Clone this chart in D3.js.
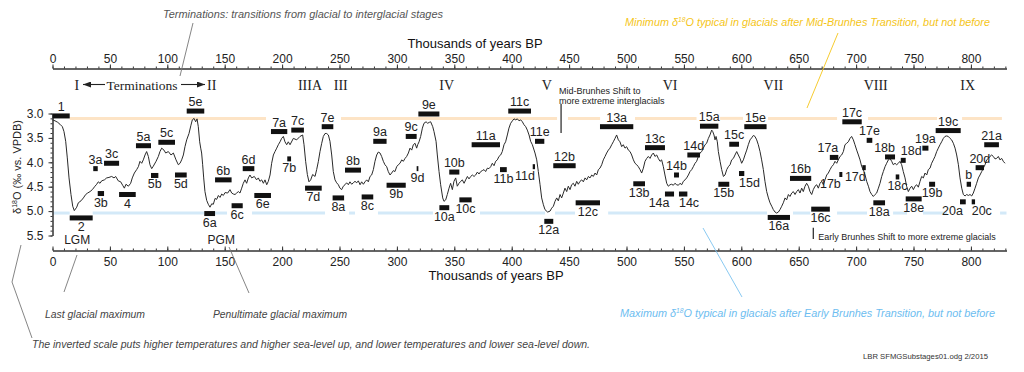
<!DOCTYPE html>
<html>
<head>
<meta charset="utf-8">
<script src="https://cdnjs.cloudflare.com/ajax/libs/d3/7.8.5/d3.min.js"></script>
<style>
  body { margin: 0; background: #fff; }
  svg { display: block; font-family: "Liberation Sans", Arial, Helvetica, sans-serif; }
  .axis text { font-size: 12px; fill: #222; }
  .axis path, .axis line { stroke: #333; }
  .note { font-style: italic; font-size: 10.5px; }
</style>
</head>
<body>
<svg id="chart"></svg>
<script>
// ---- Data ----
// x ticks (thousands of years BP) and y ticks (d18O permil)
const ageTicks = [0, 50, 100, 150, 200, 250, 300, 350, 400, 450, 500, 550, 600, 650, 700, 750, 800];
const ageMinorTicks = d3.range(0, 831, 10);
const d18OTicks = [3.0, 3.5, 4.0, 4.5, 5.0, 5.5];
const d18OMinorTicks = d3.range(30, 56, 1).map(v => v / 10);

// benthic stack trace [age kyr, d18O]
const d18OSeries = [
  [0,3.13],[2.2,3.15],[4.5,3.18],[6.5,3.22],[8.6,3.27],[10,3.37],[11.5,3.57],[12.9,3.91],[14.4,4.32],[16.1,4.66],
  [17.6,4.9],[19,4.99],[21.1,4.92],[22.5,4.83],[24.8,4.79],[26.9,4.73],[28.9,4.66],[30.6,4.63],[32.7,4.6],[34.7,4.56],
  [37,4.49],[38.5,4.45],[39.9,4.4],[41.4,4.43],[42.8,4.38],[45.2,4.36],[47.2,4.32],[49.2,4.31],[51.5,4.29],[53.6,4.32],
  [55,4.29],[57.3,4.38],[59.4,4.4],[61.1,4.47],[62.6,4.53],[64,4.45],[66.1,4.49],[68.1,4.43],[69.5,4.32],[71.3,4.22],
  [73.3,4.15],[74.8,4.09],[76.2,3.98],[77.7,4.02],[79.1,3.95],[80.6,3.85],[82,3.78],[83.5,3.88],[84.9,4.05],[86.4,4.13],
  [87.8,4.08],[90.2,3.98],[92.2,3.88],[93.6,3.78],[95.1,3.71],[97.1,3.75],[98.6,3.81],[100.9,3.78],[103.2,3.85],[105.3,3.81],
  [107.6,3.95],[109.6,4.05],[111.1,4.02],[112.5,3.95],[114,3.85],[115.4,3.68],[116.9,3.54],[118.9,3.41],[120.6,3.24],[121.8,3.13],
  [123.3,3.1],[124.7,3.17],[125.9,3.11],[127,3.27],[128.2,3.58],[129.1,3.71],[129.9,3.81],[130.8,4.05],[131.7,4.32],[132.8,4.6],
  [134.3,4.78],[135.7,4.86],[137.2,4.92],[138.7,4.85],[140.1,4.86],[141.6,4.74],[143,4.76],[144.5,4.68],[145.9,4.72],[147.4,4.65],
  [148.8,4.68],[150.3,4.62],[152.6,4.63],[154.6,4.56],[156.1,4.63],[157.5,4.65],[159,4.66],[160.4,4.63],[161.9,4.6],[163.3,4.63],
  [164.8,4.53],[166.2,4.43],[167.7,4.36],[169.1,4.43],[170.6,4.32],[172,4.26],[173.5,4.32],[175.8,4.29],[177.8,4.36],[179.3,4.32],
  [180.7,4.39],[182.2,4.36],[183.7,4.43],[185.1,4.36],[186.6,4.46],[188,4.39],[189.5,4.26],[190.9,4.02],[192.4,3.85],[193.8,3.78],
  [195.3,3.71],[196.7,3.64],[198.2,3.58],[199.6,3.51],[201.1,3.47],[202.5,3.58],[204,3.64],[205.4,3.58],
  [206.9,3.64],[209.8,3.51],[212.7,3.54],[215.6,3.47],[217.9,3.44],[219.1,3.64],[220.5,3.98],[222,4.25],[223.4,4.4],[224.9,4.36],
  [226.6,4.25],[228.7,4.29],[230.1,4.15],[231.6,3.98],[233,3.78],[234.5,3.61],[235.9,3.47],[237.4,3.41],[238.8,3.41],[240.3,3.44],
  [241.7,3.57],[243.2,3.85],[244.6,4.19],[246.1,4.36],[247.5,4.42],[249,4.46],[250.4,4.53],[251.9,4.56],[253.3,4.49],[254.8,4.46],
  [256.2,4.42],[257.7,4.46],[259.1,4.4],[260.6,4.45],[262,4.42],[263.5,4.39],[265,4.42],[266.4,4.38],[267.9,4.46],[269.3,4.4],
  [270.8,4.45],[272.2,4.4],[273.7,4.36],[275.1,4.4],[276.6,4.29],[278,4.26],[279.5,4.15],[280.9,3.98],[282.4,3.85],[283.8,3.79],
  [285.3,3.81],[286.7,3.88],[288.2,3.98],[289.6,4.05],[291.1,4.09],[292.5,4.19],[294,4.26],[295.4,4.22],[296.9,4.17],[298.3,4.19],
  [299.8,4.09],[301.2,4.05],[302.7,4.02],[304.2,3.95],[305.6,3.98],[307.1,3.92],[308.5,3.88],[310,3.81],[311.4,3.71],[312.9,3.75],
  [314.3,3.64],[315.8,3.61],[317.2,3.71],[318.1,3.64],[319.3,3.58],[320.7,3.47],[322.2,3.3],[323.6,3.2],[325.4,3.17],[326.8,3.2],
  [328.3,3.18],[329.4,3.17],[331.2,3.27],[332.3,3.37],[334.1,3.57],[335.2,3.85],[336.7,4.19],[338.1,4.46],[339.9,4.73],[341,4.8],
  [342.5,4.77],[343.9,4.66],[345.4,4.53],[346.8,4.43],[348.3,4.56],[349.7,4.39],[351.2,4.32],[352.6,4.49],[354.1,4.43],[355.6,4.39],
  [357,4.36],[358.5,4.43],[359.9,4.36],[361.4,4.29],[362.8,4.34],[364.3,4.29],[365.7,4.26],[367.2,4.29],[368.6,4.26],[370.1,4.2],
  [371.5,4.24],[373,4.19],[374.4,4.17],[375.9,4.15],[377.3,4.19],[378.8,4.12],[380.2,4.13],[381.7,4.09],[383.1,4.02],[384.6,4.07],
  [386,3.98],[387.5,3.95],[388.9,3.88],[390.4,3.85],[391.8,3.78],[393.3,3.64],[394.7,3.58],[396.2,3.44],[397.6,3.3],[399.1,3.2],
  [400.6,3.15],[402,3.11],[403.5,3.13],[404.9,3.11],[406.4,3.15],[407.8,3.13],[409.3,3.17],[410.7,3.23],[412.2,3.27],[413.6,3.34],
  [415.1,3.44],[416.5,3.57],[418,3.64],
  [420.3,3.81],[421.8,3.95],[423.2,4.19],[424.7,4.46],[426.1,4.73],[427.6,4.87],[429,4.97],[431.3,5.02],[433.4,5],[434.8,4.94],
  [436.3,4.9],[437.7,4.8],[439.2,4.73],[440.6,4.79],[442.1,4.66],[443.5,4.73],[445,4.63],[446.4,4.53],[447.9,4.6],[449.3,4.49],
  [450.8,4.56],[452.2,4.46],[453.7,4.43],[455.1,4.49],[456.6,4.39],[458,4.45],[459.5,4.39],[461,4.36],[462.4,4.4],[463.9,4.32],
  [465.3,4.36],[466.8,4.29],[468.2,4.32],[469.7,4.26],[471.1,4.29],[472.6,4.22],[474,4.26],[475.5,4.15],[476.9,4.12],[478.4,4.05],
  [479.8,3.95],[481.3,3.88],[482.7,3.81],[484.2,3.75],[485.6,3.71],[487.1,3.64],[488.5,3.58],[490,3.51],[491.4,3.44],[492.9,3.54],
  [494.3,3.58],[495.8,3.68],[497.2,3.64],[498.7,3.71],[500.1,3.68],[501.6,3.75],[503.1,3.78],[504.5,3.85],[506,3.95],[507.4,4.02],
  [508.9,4.05],[510.3,4.09],[511.8,4.15],[513.2,4.22],[514.7,4.12],[516.1,3.98],[517.6,3.92],[519,3.88],[520.5,3.92],[521.9,3.85],
  [523.4,3.81],[524.8,3.88],[526.3,3.85],[527.7,3.92],[529.2,3.98],[530.6,3.95],[532.1,4.09],[533.5,4.26],[535,4.43],[536.4,4.49],
  [537.9,4.46],[539.3,4.45],[540.8,4.47],[542.2,4.43],[543.7,4.46],[545.2,4.47],[546.6,4.43],[548.1,4.46],[549.5,4.39],[551,4.36],
  [552.4,4.32],[553.9,4.26],[555.3,4.19],[556.8,4.15],[558.2,4.09],[559.7,4.02],[561.1,3.98],[562.6,3.88],[564,3.81],[565.5,3.78],
  [566.9,3.71],[568.4,3.64],[569.8,3.61],[571.3,3.51],[572.7,3.44],[574.2,3.34],[575.1,3.37],[576.2,3.44],[577.1,3.54],[578,3.47],
  [579.1,3.58],[580,3.78],[581.5,3.98],[582.9,4.15],[584.4,4.29],[585.8,4.26],[587.3,4.15],[588.7,4.09],[590.2,4.05],[591.6,3.95],
  [593.1,3.92],[594.5,3.85],[596,3.78],[597.4,3.85],[598.9,3.92],[600.3,4.02],[601.8,3.95],[603.2,3.85],[604.7,3.75],[606.1,3.64],
  [607.6,3.54],[609,3.5],[610.5,3.45],[611.9,3.47],[613.4,3.54],[614.8,3.64],[616.3,3.78],[617.7,3.95],[619.2,4.15],[620.6,4.39],
  [622.1,4.6],[623.6,4.73],[625,4.83],[626.5,4.9],[627.9,4.97],[629.4,5.02],[630.8,5.04],[632.3,5.02],
  [633.7,4.97],[635.2,4.9],[636.6,4.83],[638.1,4.73],[639.5,4.77],[641,4.66],[642.4,4.7],[643.9,4.63],[645.3,4.6],[646.8,4.66],
  [648.2,4.6],[649.7,4.56],[651.1,4.63],[652.6,4.53],[654,4.6],[655.5,4.49],[656.9,4.43],[658.4,4.49],[659.8,4.6],[661.3,4.66],
  [662.7,4.56],[664.2,4.49],[665.7,4.46],[667.1,4.53],[668.6,4.43],[670,4.39],[671.5,4.46],[672.9,4.36],[674.4,4.26],[675.8,4.22],
  [677.3,4.15],[678.7,4.09],[680.2,4.05],[681.6,3.98],[683.1,4.02],[684.5,3.95],[686,3.88],[687.4,3.85],[688.9,3.78],[690.3,3.64],
  [691.8,3.61],[693.2,3.58],[694.7,3.51],[696.1,3.47],[697.6,3.54],[699,3.64],[700.5,3.75],[702,3.85],[703.4,3.95],[704.9,4.09],
  [706.3,4.15],[707.8,4.26],[709.2,4.39],[710.7,4.49],[712.1,4.6],[713.6,4.66],[715,4.7],[716.5,4.66],[717.9,4.63],[719.4,4.53],
  [720.8,4.43],[722.3,4.29],[723.7,4.19],[725.2,4.09],[726.6,4.02],[728.1,3.95],[729.5,3.92],[731,3.98],[732.4,4.05],[733.9,4.02],
  [735.3,4.05],[736.8,4.02],[738.2,3.98],[739.7,4.05],[741.1,4.19],[742.6,4.32],[744,4.49],[745.5,4.6],[747,4.53],[748.4,4.49],
  [749.9,4.56],[751.3,4.49],[752.8,4.46],[754.2,4.51],[755.7,4.39],[757.1,4.29],[758.6,4.32],[760,4.22],[761.5,4.26],[762.9,4.15],
  [764.4,4.12],[765.8,4.02],[767.3,3.95],[768.7,3.88],[770.2,3.78],[771.6,3.71],[773.1,3.64],[774.5,3.58],[776,3.51],[777.4,3.47],
  [778.9,3.46],[780.3,3.47],[781.8,3.51],[783.2,3.54],[784.7,3.61],[786.2,3.71],[787.6,3.85],[789.1,4.05],[790.5,4.32],[792,4.53],
  [793.4,4.66],[794.9,4.69],[796.3,4.66],[797.8,4.68],[799.2,4.66],[800.7,4.69],[802.1,4.63],[803.6,4.53],[805,4.43],[806.5,4.32],
  [807.9,4.26],[809.4,4.19],[810.8,4.12],[812.3,4.05],[813.7,3.95],[815.2,3.92],[816.6,3.88],[818.1,3.85],[819.5,3.88],[821,3.93],
  [822.4,3.92],[823.9,3.88],[825.3,3.95],[826.8,3.92],[828.2,3.98],[829.7,4.02]
];

// marine isotope substages: [name, start kyr, end kyr, d18O, label side, label alignment]
// alignment: "m" centred on bar, "s" starts at bar start, "e" ends at bar end, "c" ends at bar centre
const substages = [
  ["1",0,15,3.05,"above","m"],["2",15,35,5.14,"below","m"],["3a",35.5,39.4,4.13,"above","m"],["3b",39.4,44.9,4.64,"below","m"],
  ["3c",44.9,58,4.02,"above","m"],["4",58,72.5,4.66,"below","m"],["5a",72.7,85.8,3.66,"above","m"],["5b",85.8,92.2,4.27,"below","m"],
  ["5c",92.2,106.7,3.59,"above","m"],["5d",106.7,116.9,4.26,"below","m"],["5e",116.9,132.2,2.95,"above","m"],["6a",132.2,141.6,5.05,"below","m"],
  ["6b",141.6,156,4.36,"above","m"],["6c",156,165.7,4.89,"below","m"],["6d",165.7,175.8,4.13,"above","m"],["6e",175.8,190.3,4.68,"below","m"],
  ["7a",190.3,204.5,3.37,"above","m"],["7b",204.5,207.8,3.93,"below","m"],["7c",208,219,3.34,"above","m"],["7d",220,234.5,4.53,"below","m"],
  ["7e",234.5,244.6,3.27,"above","m"],["8a",244,254,4.73,"below","m"],["8b",254.8,268.7,4.16,"above","m"],["8c",269.3,279.4,4.71,"below","m"],
  ["9a",279.4,291,3.57,"above","m"],["9b",291,307.7,4.47,"below","m"],["9c",307.7,317.2,3.47,"above","m"],["9d",317.2,318.7,4.13,"below","m"],
  ["9e",318.7,337,3.01,"above","m"],["10a",337,345.6,4.93,"below","m"],["10b",345.6,354.4,4.2,"above","m"],["10c",354.4,365.1,4.77,"below","m"],
  ["11a",365.1,389.8,3.64,"above","m"],["11b",389.8,395.7,4.15,"below","m"],["11c",397,416.8,2.95,"above","m"],["11d",418.3,420.3,4.09,"below","e"],
  ["11e",420.3,428.4,3.57,"above","m"],["12a",428.4,436.2,5.21,"below","m"],["12b",436.2,455.7,4.07,"above","m"],["12c",455.7,476.9,4.83,"below","m"],
  ["13a",476.9,505.9,3.27,"above","m"],["13b",505.9,516.1,4.44,"below","m"],["13c",516.1,533.5,3.7,"above","m"],["14a",533.5,541.4,4.65,"below","c"],
  ["14b",541.4,545.7,4.26,"above","m"],["14c",545.7,553,4.65,"below","s"],["14d",553,564,3.85,"above","m"],["15a",564,580,3.26,"above","m"],
  ["15b",580,589.5,4.45,"below","m"],["15c",589.5,598,3.63,"above","m"],["15d",598,602.6,4.23,"below","s"],["15e",602.6,622,3.27,"above","m"],
  ["16a",623,642.4,5.13,"below","m"],["16b",642.4,660.9,4.33,"above","m"],["16c",660.9,677.1,4.96,"below","m"],["17a",677.1,684.5,3.9,"above","e"],
  ["17b",685.4,688,4.25,"below","c"],["17c",688,704.9,3.17,"above","m"],["17d",705.4,708.4,4.11,"below","e"],["17e",709.2,714.1,3.55,"above","m"],
  ["18a",715,725.2,4.83,"below","m"],["18b",725.2,733.9,3.89,"above","e"],["18c",734.5,737.6,4.3,"below","m"],["18d",738.9,743.2,3.96,"above","s"],
  ["18e",743.2,757.1,4.75,"below","m"],["19a",757.7,763,3.71,"above","m"],["19b",763.6,768.8,4.45,"below","m"],["19c",769.3,791.1,3.35,"above","m"],
  ["20a",790.5,795.5,4.81,"below","c"],["b",796.3,800.1,4.45,"above","m"],["20c",800.7,803.6,4.81,"below","s"],["20d",804.1,811.4,4.11,"above","m"],
  ["21a",811.6,824.4,3.64,"above","m"]
];

// terminations (roman numerals) and their ages
const terminationNames = ["I", "II", "IIIA", "III", "IV", "V", "VI", "VII", "VIII", "IX"];
const terminationAges = [21.1, 138.7, 224.3, 251.1, 343.4, 430.5, 537.9, 627.9, 717.1, 797.2];

// reference levels and where they are shown
const interglacialLevel = 3.10;
const interglacialSegments = [[15,186],[251.3,439.5],[449,477],[507.4,561],[581.5,601.5],[623.3,683.4],[710.4,770.5],[792.3,827]];
const glacialLevel = 5.04;
const glacialSegments = [[0,15],[35,132],[141.6,152],[173.8,237.4],[258.3,263.5],[283.5,331.4],[372.4,429],[437.7,455.1],
                         [484,622.4],[645,660],[683.4,709.5],[732.2,744.4],[758.3,779.2],[825.4,831]];

// shifts
const midBrunhesAge = 443;
const earlyBrunhesAge = 662.7;

// glacial maxima
const maximaNames = ["LGM", "PGM"];
const maximaAges = [21.5, 147];

// ---- Chart ----
const svgWidth = 1024;
const svgHeight = 372;
const svg = d3.select("#chart").attr("width", svgWidth).attr("height", svgHeight);

const x = d3.scaleLinear().domain([0, 831]).range([52.5, 1006.5]);
const y = d3.scaleLinear().domain([3.0, 5.5]).range([113.5, 235.5]);

const topAxisY = 68.5;
const bottomAxisY = 250.5;

// reference levels
svg.selectAll(".interglacial").data(interglacialSegments).enter().append("line")
   .attr("x1", d => x(d[0])).attr("x2", d => x(d[1]))
   .attr("y1", y(interglacialLevel)).attr("y2", y(interglacialLevel))
   .attr("stroke", "#fde4c6").attr("stroke-width", 3);
svg.selectAll(".glacial").data(glacialSegments).enter().append("line")
   .attr("x1", d => x(d[0])).attr("x2", d => x(d[1]))
   .attr("y1", y(glacialLevel)).attr("y2", y(glacialLevel))
   .attr("stroke", "#d3e9f8").attr("stroke-width", 3);

// top axis
svg.append("g").attr("class", "axis")
   .attr("transform", `translate(0,${topAxisY})`)
   .call(d3.axisTop(x).tickValues(ageMinorTicks).tickSize(2).tickSizeOuter(0).tickFormat(""));
svg.append("g").attr("class", "axis")
   .attr("transform", `translate(0,${topAxisY})`)
   .call(d3.axisTop(x).tickValues(ageTicks).tickSize(4).tickSizeOuter(0).tickPadding(2));

// bottom axis, ticks pointing up
svg.append("g").attr("class", "axis")
   .attr("transform", `translate(0,${bottomAxisY})`)
   .call(d3.axisBottom(x).tickValues(ageMinorTicks).tickSizeInner(-2).tickSizeOuter(0).tickFormat(""));
svg.append("g").attr("class", "axis")
   .attr("transform", `translate(0,${bottomAxisY})`)
   .call(d3.axisBottom(x).tickValues(ageTicks).tickSizeInner(-4).tickSizeOuter(0).tickPadding(7));

// y axis
svg.append("g").attr("class", "axis")
   .attr("transform", `translate(${x(0)},0)`)
   .call(d3.axisLeft(y).tickValues(d18OMinorTicks).tickSize(2).tickSizeOuter(0).tickFormat(""));
svg.append("g").attr("class", "axis")
   .attr("transform", `translate(${x(0)},0)`)
   .call(d3.axisLeft(y).tickValues(d18OTicks).tickSize(4).tickSizeOuter(0).tickPadding(5).tickFormat(d3.format(".1f")));

// axis titles
svg.append("text").attr("x", 475).attr("y", 48).attr("text-anchor", "middle")
   .style("font-size", "13px").attr("fill", "#111").text("Thousands of years BP");
svg.append("text").attr("x", 496).attr("y", 280).attr("text-anchor", "middle")
   .style("font-size", "13px").attr("fill", "#111").text("Thousands of years BP");
const yTitle = svg.append("text").attr("transform", "translate(21,167) rotate(-90)")
   .attr("text-anchor", "middle").style("font-size", "11px").attr("fill", "#222");
yTitle.append("tspan").text("δ");
yTitle.append("tspan").attr("dy", -4).style("font-size", "7px").text("18");
yTitle.append("tspan").attr("dy", 4).text("O (‰ vs. VPDB)");

// curve
const line = d3.line().x(d => x(d[0])).y(d => y(d[1]));
svg.append("path").datum(d18OSeries)
   .attr("d", line).attr("fill", "none")
   .attr("stroke", "#2a2a2a").attr("stroke-width", 1).attr("stroke-linejoin", "round");

// substage bars
const barH = 5;
svg.selectAll(".stage").data(substages).enter().append("rect")
   .attr("x", d => x(d[1]))
   .attr("width", d => Math.max(x(d[2]) - x(d[1]), 1.6))
   .attr("y", d => y(d[3]) - barH / 2)
   .attr("height", barH)
   .attr("fill", "#111");

const labelX = d => {
  if (d[5] === "s") return x(d[1]);
  if (d[5] === "e") return x(d[2]);
  return (x(d[1]) + x(d[2])) / 2;
};
const labelAnchor = d => d[5] === "s" ? "start" : (d[5] === "e" || d[5] === "c") ? "end" : "middle";

svg.selectAll(".stageLabel").data(substages).enter().append("text")
   .attr("x", labelX)
   .attr("y", d => d[4] === "above" ? y(d[3]) - 5 : y(d[3]) + 13)
   .attr("text-anchor", labelAnchor).style("font-size", "12.5px").attr("fill", "#222")
   .text(d => d[0]);

// glacial maxima labels
svg.selectAll(".maxLabel").data(maximaNames).enter().append("text")
   .attr("x", (d, i) => x(maximaAges[i])).attr("y", 244)
   .attr("text-anchor", "middle").style("font-size", "12px").attr("fill", "#222")
   .text(d => d);

// terminations row
const romanY = 89.5;
svg.selectAll(".term").data(terminationNames).enter().append("text")
   .attr("x", (d, i) => x(terminationAges[i])).attr("y", romanY)
   .attr("text-anchor", "middle")
   .style("font-family", '"Liberation Serif", "Times New Roman", serif').style("font-size", "14px")
   .attr("fill", "#222").text(d => d);
svg.append("text").attr("x", 142).attr("y", romanY).attr("text-anchor", "middle")
   .style("font-family", '"Liberation Serif", "Times New Roman", serif').style("font-size", "13.5px")
   .attr("fill", "#222").text("Terminations");

const defs = svg.append("defs");
defs.append("marker").attr("id", "arrow").attr("viewBox", "0 0 8 6")
    .attr("refX", 8).attr("refY", 3).attr("markerWidth", 8).attr("markerHeight", 6)
    .attr("markerUnits", "userSpaceOnUse").attr("orient", "auto")
    .append("path").attr("d", "M0,0L8,3L0,6z").attr("fill", "#222");
[[105, 83], [181, 205]].forEach(a => {
  svg.append("line").attr("x1", a[0]).attr("x2", a[1]).attr("y1", 84.5).attr("y2", 84.5)
     .attr("stroke", "#222").attr("stroke-width", 1.1).attr("marker-end", "url(#arrow)");
});

// shift markers
svg.append("line").attr("x1", x(midBrunhesAge)).attr("x2", x(midBrunhesAge))
   .attr("y1", y(2.8)).attr("y2", y(3.4)).attr("stroke", "#222").attr("stroke-width", 1.2);
svg.append("text").attr("x", x(midBrunhesAge) - 2).attr("y", 94).style("font-size", "9px").attr("fill", "#222")
   .text("Mid-Brunhes Shift to");
svg.append("text").attr("x", x(midBrunhesAge) - 2).attr("y", 104).style("font-size", "9px").attr("fill", "#222")
   .text("more extreme interglacials");
svg.append("line").attr("x1", x(earlyBrunhesAge)).attr("x2", x(earlyBrunhesAge))
   .attr("y1", y(5.34)).attr("y2", y(5.57)).attr("stroke", "#222").attr("stroke-width", 1.2);
svg.append("text").attr("x", x(earlyBrunhesAge) + 5).attr("y", 240).style("font-size", "9px").attr("fill", "#222")
   .text("Early Brunhes Shift to more extreme glacials");

// annotations with leader lines
const leaders = [
  { pts: [[193, 23], [180, 76]], color: "#777" },
  { pts: [[838, 33], [807, 108]], color: "#f5c518" },
  { pts: [[703, 228], [742, 297]], color: "#7cc3ef" },
  { pts: [[77, 255], [64, 292]], color: "#777" },
  { pts: [[229, 247], [249, 293]], color: "#777" },
  { pts: [[21, 245], [12, 282], [32, 338]], color: "#777" }
];
leaders.forEach(l => {
  svg.append("path").attr("d", d3.line()(l.pts)).attr("fill", "none")
     .attr("stroke", l.color).attr("stroke-width", 0.9);
});

const notes = [
  { x: 163, y: 18, w: 280, color: "#555", parts: ["Terminations: transitions from glacial to interglacial stages"] },
  { x: 625, y: 26, w: 365, color: "#f5c518", parts: ["Minimum δ", "18", "O typical in glacials after Mid-Brunhes Transition, but not before"] },
  { x: 620, y: 317, w: 375, color: "#6dbdf0", parts: ["Maximum δ", "18", "O typical in glacials after Early Brunhes Transition, but not before"] },
  { x: 45, y: 318, w: 100, color: "#444", parts: ["Last glacial maximum"] },
  { x: 213, y: 318, w: 134, color: "#444", parts: ["Penultimate glacial maximum"] },
  { x: 32, y: 348, w: 558, color: "#444", parts: ["The inverted scale puts higher temperatures and higher sea-level up, and lower temperatures and lower sea-level down."] }
];
notes.forEach(n => {
  const t = svg.append("text").attr("class", "note").attr("x", n.x).attr("y", n.y)
     .attr("fill", n.color).attr("textLength", n.w).attr("lengthAdjust", "spacingAndGlyphs");
  t.append("tspan").text(n.parts[0]);
  if (n.parts.length > 1) {
    t.append("tspan").attr("dy", -4).style("font-size", "6.5px").text(n.parts[1]);
    t.append("tspan").attr("dy", 4).text(n.parts[2]);
  }
});

svg.append("text").attr("x", 863).attr("y", 359).style("font-size", "7px").attr("fill", "#333")
   .attr("textLength", 125).attr("lengthAdjust", "spacingAndGlyphs")
   .text("LBR  SFMGSubstages01.odg 2/2015");
</script>
</body>
</html>
